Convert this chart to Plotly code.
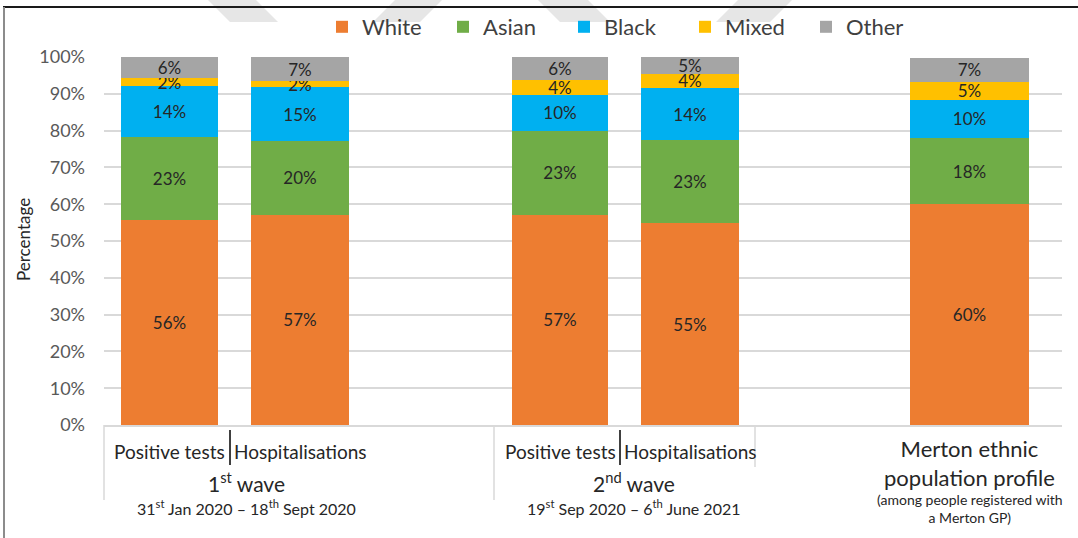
import plotly.graph_objects as go

# ── Data ──────────────────────────────────────────────────────────────────────
bars = ["Positive tests (1st wave)", "Hospitalisations (1st wave)",
        "Positive tests (2nd wave)", "Hospitalisations (2nd wave)",
        "Merton population profile"]
white = [55.7, 57.2, 57.1, 54.8, 60.0]
asian = [22.6, 20.0, 22.9, 22.6, 18.0]
black = [13.8, 14.6, 9.8, 14.2, 10.4]
mixed = [2.2, 1.6, 3.9, 3.8, 4.8]
other = [5.7, 6.6, 6.3, 4.6, 6.6]

series = [("White", white, "#ED7D31"), ("Asian", asian, "#70AD47"),
          ("Black", black, "#00B0F0"), ("Mixed", mixed, "#FFC000"),
          ("Other", other, "#A5A5A5")]

sub_labels = ["Positive tests", "Hospitalisations", "Positive tests", "Hospitalisations"]
wave_labels = ["1<sup>st</sup> wave", "2<sup>nd</sup> wave"]
wave_dates = ["31<sup>st</sup> Jan 2020 – 18<sup>th</sup> Sept 2020",
              "19<sup>st</sup> Sep 2020 – 6<sup>th</sup> June 2021"]
merton_label = "Merton ethnic<br>population profile"
merton_note = "(among people registered with<br>a Merton GP)"

# ── Layout (pixel geometry of the original) ──────────────────────────────────
W, H = 1078, 538
PL, PR, PT, PB = 104, 1062, 57, 425
BAR_X = [169.5, 300, 560, 690, 969.5]
BAR_W = [97, 98, 96, 98, 119]
FONT = "Lato"
INK = "#262626"


def px(x):
    return (x - PL) / (PR - PL)


def py(y):
    return (PB - y) / (PB - PT)


fig = go.Figure()
for name, vals, color in series:
    fig.add_trace(go.Bar(
        x=BAR_X, y=vals, width=BAR_W, name=name,
        marker=dict(color=color, line_width=0),
        text=vals, texttemplate="%{y:.0f}%", textposition="inside",
        insidetextanchor="middle", textangle=0,
        textfont=dict(size=17, color=INK, family=FONT),
        hovertext=bars, hovertemplate="%{hovertext}<br>" + name + ": %{y:.0f}%<extra></extra>",
    ))

ann = []
for x, t in zip(BAR_X[:4], sub_labels):
    ann.append(dict(x=px(x), y=py(451), text=t, font=dict(size=19, color=INK)))
for x, t, d in zip([246, 634], wave_labels, wave_dates):
    ann.append(dict(x=px(x), y=py(482), text=t, font=dict(size=21, color=INK)))
    ann.append(dict(x=px(x), y=py(507), text=d, font=dict(size=16, color=INK)))
ann.append(dict(x=px(BAR_X[4]), y=py(463), text=merton_label, font=dict(size=22, color=INK)))
ann.append(dict(x=px(BAR_X[4]), y=py(509), text=merton_note, font=dict(size=14, color=INK)))
ann.append(dict(x=px(23), y=py(240), text="Percentage", textangle=-90,
                font=dict(size=17, color=INK)))
for a in ann:
    a.update(xref="paper", yref="paper", showarrow=False, xanchor="center", yanchor="middle")

shapes = []
# category axis separators
for x, y1, c, w in [(104, 500, "#D9D9D9", 1.5), (494, 500, "#D9D9D9", 1.5),
                    (755, 467, "#D9D9D9", 1.5), (230, 465, "#000000", 1.5),
                    (620, 465, "#000000", 1.5)]:
    y0 = 425 if c == "#D9D9D9" else 430
    shapes.append(dict(type="line", xref="paper", yref="paper",
                       x0=px(x), x1=px(x), y0=py(y0), y1=py(y1),
                       line=dict(color=c, width=w)))
# outer frame of the screenshot
shapes.append(dict(type="line", xref="paper", yref="paper", x0=px(3), x1=px(W),
                   y0=py(7), y1=py(7), line=dict(color="#1a1a1a", width=2)))
shapes.append(dict(type="line", xref="paper", yref="paper", x0=px(4), x1=px(4),
                   y0=py(7), y1=py(H), line=dict(color="#8c8c8c", width=2)))
# faint watermark strokes at the top edge
for (a, b, c, d) in [(208, 256, 278, 230), (395, 442, 420, 373),
                     (538, 588, 610, 560), (738, 792, 770, 716)]:
    path = (f"M {px(a)},{py(0)} L {px(b)},{py(0)} L {px(c)},{py(22)} "
            f"L {px(d)},{py(22)} Z")
    shapes.append(dict(type="path", xref="paper", yref="paper", path=path,
                       fillcolor="#E6E6E6", line_width=0, layer="below"))

fig.update_layout(
    width=W, height=H, barmode="stack",
    margin=dict(l=PL, r=W - PR, t=PT, b=H - PB, pad=0, autoexpand=False),
    paper_bgcolor="white", plot_bgcolor="white",
    font=dict(family=FONT, color=INK),
    uniformtext=dict(minsize=17, mode="show"),
    legend=dict(orientation="h", x=px(322), y=py(27), xanchor="left",
                yanchor="middle", font=dict(size=22, color="#404040"),
                traceorder="normal", itemwidth=30, entrywidth=76,
                entrywidthmode="pixels", bgcolor="rgba(0,0,0,0)"),
    xaxis=dict(range=[PL, PR], showticklabels=False, showgrid=False,
               zeroline=False, showline=True, linecolor="#D9D9D9", linewidth=1.5,
               fixedrange=True),
    yaxis=dict(range=[0, 100], dtick=10, ticksuffix="%", showgrid=True,
               gridcolor="#D9D9D9", gridwidth=1.5, zeroline=False,
               tickfont=dict(size=18, color="#595959"), ticklabelstandoff=18,
               fixedrange=True),
    annotations=ann, shapes=shapes,
)

fig.write_html("out.html", config={"displayModeBar": False},
               post_script="document.body.style.margin='0';")
